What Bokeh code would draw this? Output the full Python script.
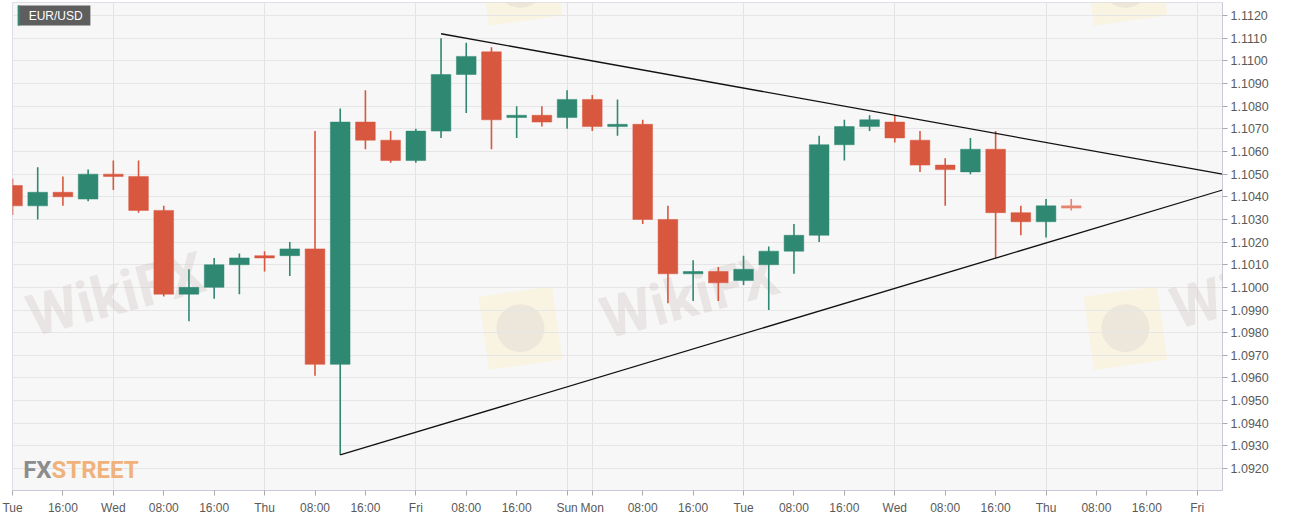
from bokeh.plotting import figure
from bokeh.models import (FixedTicker, NumeralTickFormatter, Range1d, Label,
                          BoxAnnotation, ColumnDataSource)
from bokeh.embed import file_html
from bokeh.resources import INLINE

# ---------------- data ----------------
slots = list(range(-4, 39))  # 4-hour candle slots
opens = [1.1045, 1.1036, 1.1042, 1.1039, 1.1050, 1.1049, 1.1034, 1.0997, 1.1000, 1.1010,
         1.1014, 1.1014, 1.1017, 1.0966, 1.1073, 1.1065, 1.1056, 1.1069, 1.1094, 1.1104,
         1.1075, 1.1076, 1.1075, 1.1083, 1.1071, 1.1072, 1.1030, 1.1006, 1.1007, 1.1003,
         1.1010, 1.1016, 1.1023, 1.1063, 1.1071, 1.1073, 1.1065, 1.1054, 1.1051, 1.1061,
         1.1033, 1.1029, 1.1036]
highs = [1.1048, 1.1053, 1.1049, 1.1052, 1.1056, 1.1056, 1.1036, 1.1008, 1.1013, 1.1015,
         1.1016, 1.1020, 1.1069, 1.1079, 1.1087, 1.1069, 1.1070, 1.1110, 1.1108, 1.1106,
         1.1080, 1.1080, 1.1087, 1.1085, 1.1083, 1.1074, 1.1036, 1.1012, 1.1009, 1.1014,
         1.1018, 1.1028, 1.1067, 1.1074, 1.1076, 1.1076, 1.1069, 1.1057, 1.1066, 1.1069,
         1.1036, 1.1039, 1.1039]
lows = [1.1032, 1.1030, 1.1036, 1.1038, 1.1043, 1.1033, 1.0996, 1.0985, 1.0995, 1.0997,
        1.1007, 1.1005, 1.0961, 1.0926, 1.1061, 1.1055, 1.1055, 1.1066, 1.1077, 1.1061,
        1.1066, 1.1071, 1.1070, 1.1069, 1.1067, 1.1028, 1.0993, 1.0994, 1.0994, 1.1001,
        1.0990, 1.1006, 1.1020, 1.1056, 1.1069, 1.1064, 1.1051, 1.1036, 1.1050, 1.1013,
        1.1023, 1.1022, 1.1034]
closes = [1.1036, 1.1042, 1.1040, 1.1050, 1.1049, 1.1034, 1.0997, 1.1000, 1.1010, 1.1013,
          1.1013, 1.1017, 1.0966, 1.1073, 1.1065, 1.1056, 1.1069, 1.1094, 1.1102, 1.1074,
          1.1076, 1.1073, 1.1083, 1.1071, 1.1072, 1.1030, 1.1006, 1.1007, 1.1002, 1.1008,
          1.1016, 1.1023, 1.1063, 1.1071, 1.1074, 1.1066, 1.1054, 1.1052, 1.1061, 1.1033,
          1.1029, 1.1036, 1.1035]

tick_slots = [-4, -2, 0, 2, 4, 6, 8, 10, 12, 14, 16, 18, 19, 21, 23, 25, 27, 29, 31,
              33, 35, 37, 39, 41, 43]
tick_labels = ["Tue", "16:00", "Wed", "08:00", "16:00", "Thu", "08:00", "16:00", "Fri",
               "08:00", "16:00", "Sun", "Mon", "08:00", "16:00", "Tue", "08:00", "16:00",
               "Wed", "08:00", "16:00", "Thu", "08:00", "16:00", "Fri"]
day_slots = [0, 6, 12, 18, 19, 25, 31, 37, 43]
price_ticks = [1.0920, 1.0930, 1.0940, 1.0950, 1.0960, 1.0970, 1.0980, 1.0990, 1.1000,
               1.1010, 1.1020, 1.1030, 1.1040, 1.1050, 1.1060, 1.1070, 1.1080, 1.1090,
               1.1100, 1.1110, 1.1120]

upper_trend_slots = [13, 44]
upper_trend_prices = [1.1112, 1.1050]
lower_trend_slots = [9, 44]
lower_trend_prices = [1.0926, 1.1043]

# ---------------- styling ----------------
GREEN = "#2f8872"
RED = "#d8573f"
LAST = "#e6856f"

colors = [GREEN if c >= o else RED for o, c in zip(opens, closes)]
colors[-1] = LAST
tops = [max(o, c) for o, c in zip(opens, closes)]
bottoms = [min(o, c) for o, c in zip(opens, closes)]

src = ColumnDataSource(dict(x=slots, o=opens, h=highs, l=lows, c=closes,
                            top=tops, bottom=bottoms, color=colors))

p = figure(frame_width=1210, frame_height=488,
           x_range=Range1d(-4, 44), y_range=Range1d(1.09103, 1.11258),
           output_backend="svg", toolbar_location=None,
           y_axis_location="right",
           min_border_left=12, min_border_right=60, min_border_top=2, min_border_bottom=24,
           background_fill_color="#f7f7f7", border_fill_color="white",
           outline_line_color="#dedfea")

# watermarks (underlay)
logo_src = ColumnDataSource(dict(x=[16.15, 40.15, 16.15, 40.15],
                                 y=[1.0982, 1.0982, 1.1134, 1.1134]))
p.rect(x="x", y="y", width=74, height=74, width_units="screen", height_units="screen",
       angle=0.14, fill_color="#fbefc8", fill_alpha=0.45, line_color=None,
       source=logo_src, level="underlay")
p.scatter(x="x", y="y", size=48, marker="circle", fill_color="#cfc6c6", fill_alpha=0.3,
          line_color=None, source=logo_src, level="underlay")
wm = dict(angle=0.26, text_font="Roboto", text_font_style="bold", text_font_size="58px",
          text_color="#c9bcbc", text_alpha=0.3, text_baseline="middle")
p.add_layout(Label(x=0.1, y=1.0997, text="WikiFX", text_align="center",
                   level="underlay", **wm))
p.add_layout(Label(x=22.86, y=1.0996, text="WikiFX", text_align="center",
                   level="underlay", **wm))
p.add_layout(Label(x=42.0, y=1.0990, text="Wik", text_align="left",
                   level="annotation", **wm))

# candles
p.segment(x0="x", y0="l", x1="x", y1="h", line_color="color", line_width=1.6, source=src)
p.vbar(x="x", width=0.78, top="top", bottom="bottom", fill_color="color",
       line_color="color", line_width=0.5, source=src)

# trend lines
p.line(upper_trend_slots, upper_trend_prices, line_color="#111111", line_width=1.3)
p.line(lower_trend_slots, lower_trend_prices, line_color="#111111", line_width=1.3)

# axes
xa = p.xaxis[0]
xa.ticker = FixedTicker(ticks=tick_slots)
xa.major_label_overrides = {k: v for k, v in zip(tick_slots, tick_labels)}
xa.minor_tick_line_color = None
xa.major_tick_in = 0
xa.major_tick_out = 5
xa.major_tick_line_color = "#aaaaaa"
xa.axis_line_color = "#c8c9d8"
xa.major_label_text_font = "Liberation Sans"
xa.major_label_text_font_size = "12px"
xa.major_label_text_color = "#5a5a5a"
xa.major_label_standoff = 5

ya = p.yaxis[0]
ya.ticker = FixedTicker(ticks=price_ticks)
ya.formatter = NumeralTickFormatter(format="0.0000")
ya.minor_tick_line_color = None
ya.major_tick_in = 0
ya.major_tick_out = 5
ya.major_tick_line_color = "#aaaaaa"
ya.axis_line_color = "#c8c9d8"
ya.major_label_text_font = "Liberation Sans"
ya.major_label_text_font_size = "12.5px"
ya.major_label_text_color = "#5a5a5a"
ya.major_label_standoff = 3

p.xgrid.ticker = FixedTicker(ticks=day_slots)
p.xgrid.grid_line_color = "#e3e3e3"
p.ygrid.grid_line_color = "#e6e6e6"

# symbol badge
p.add_layout(BoxAnnotation(left=-3.79, right=-0.91, top=1.11245, bottom=1.11156,
                           fill_color="#5e5e5e", fill_alpha=1, line_color=None))
p.add_layout(BoxAnnotation(left=-3.79, right=-3.71, top=1.11245, bottom=1.11156,
                           fill_color=GREEN, fill_alpha=1, line_color=None))
p.add_layout(Label(x=-3.36, y=1.11200, text="EUR/USD", text_color="white",
                   text_font="Liberation Sans", text_font_size="12px",
                   text_baseline="middle", text_align="left"))

# FXSTREET logo
p.add_layout(Label(x=-2.45, y=1.09192, text="FX", text_color="#8c8c8c",
                   text_font="Roboto", text_font_style="bold",
                   text_font_size="24px", text_align="right", text_baseline="alphabetic"))
p.add_layout(Label(x=-2.45, y=1.09192, text="STREET", text_color="#f0b27a",
                   text_font="Roboto", text_font_style="bold",
                   text_font_size="24px", text_align="left", text_baseline="alphabetic"))

open("out.html", "w").write(file_html(p, INLINE))
